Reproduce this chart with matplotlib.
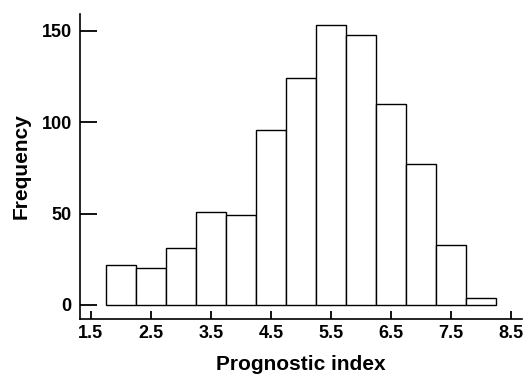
import matplotlib
matplotlib.use("Agg")
import matplotlib.pyplot as plt

bin_edges = [1.75, 2.25, 2.75, 3.25, 3.75, 4.25, 4.75, 5.25, 5.75, 6.25, 6.75, 7.25, 7.75, 8.25]
counts = [22, 20, 31, 51, 49, 96, 124, 153, 148, 110, 77, 33, 4]
x_ticks = [1.5, 2.5, 3.5, 4.5, 5.5, 6.5, 7.5, 8.5]
x_tick_labels = ["1.5", "2.5", "3.5", "4.5", "5.5", "6.5", "7.5", "8.5"]
y_ticks = [0, 50, 100, 150]

plt.rcParams['font.family'] = ['Liberation Sans', 'DejaVu Sans']

fig = plt.figure(figsize=(5.24, 3.76), dpi=100)
ax = fig.add_axes([0.1527, 0.1516, 0.9962 - 0.1527, 0.9628 - 0.1516])

lefts = bin_edges[:-1]
widths = [b - a for a, b in zip(bin_edges[:-1], bin_edges[1:])]
ax.bar(lefts, counts, width=widths, align='edge', color='white',
       edgecolor='black', linewidth=1.0)

ax.set_xlim(1.32, 8.68)
ax.set_ylim(-7.7, 159.3)

ax.set_xticks(x_ticks)
ax.set_xticklabels(x_tick_labels, fontsize=13, fontweight='bold')
ax.set_yticks(y_ticks)
ax.set_yticklabels([str(v) for v in y_ticks], fontsize=13, fontweight='bold')

ax.tick_params(axis='x', direction='in', length=6, width=1.3, pad=4)
ax.tick_params(axis='y', direction='in', length=12, width=1.3, pad=6)

for s in ['top', 'right']:
    ax.spines[s].set_visible(False)
for s in ['left', 'bottom']:
    ax.spines[s].set_linewidth(1.2)

ax.set_xlabel("Prognostic index", fontsize=15, fontweight='bold', labelpad=10)
ax.set_ylabel("Frequency", fontsize=15, fontweight='bold', labelpad=8)

fig.savefig("out.png", dpi=100)
